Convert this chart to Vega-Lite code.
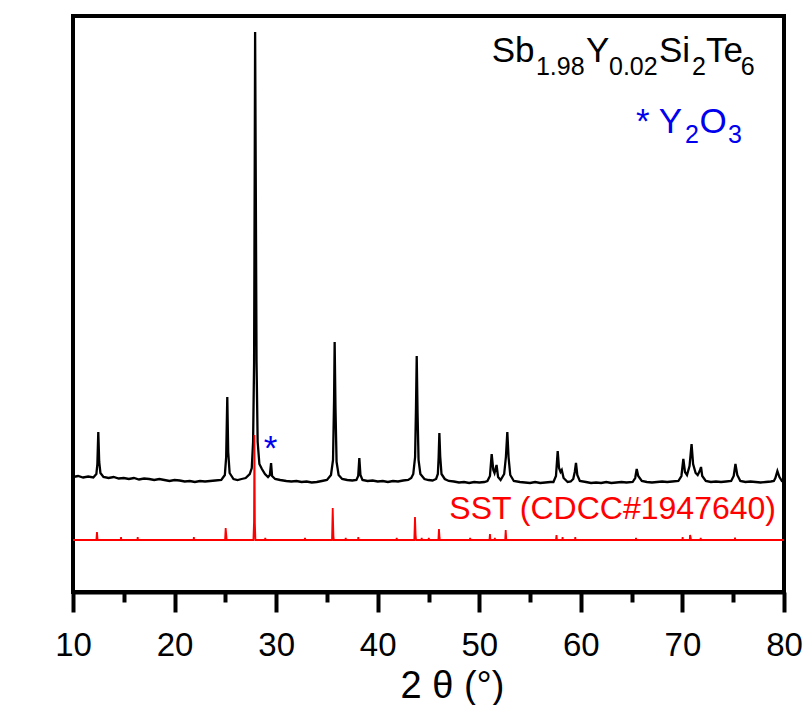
{
  "$schema": "https://vega.github.io/schema/vega-lite/v6.json",
  "width": 711,
  "height": 576,
  "autosize": {"type": "none"},
  "padding": {"left": 73, "top": 16, "right": 24, "bottom": 113},
  "background": "white",
  "config": {
    "font": "Liberation Sans",
    "view": {"stroke": "black", "strokeWidth": 4},
    "axis": {"grid": false}
  },
  "datasets": {
    "xrd": [
      {"t":10.0,"i":115},{"t":10.5,"i":116},{"t":11.0,"i":114.5},{"t":11.5,"i":115.5},{"t":12.0,"i":114.5},
      {"t":12.3,"i":118},{"t":12.4,"i":128},{"t":12.49,"i":160},{"t":12.58,"i":130},{"t":12.7,"i":119},
      {"t":13.0,"i":115},{"t":13.5,"i":114},{"t":14.0,"i":115},{"t":14.5,"i":113.5},{"t":15.0,"i":114},
      {"t":15.5,"i":113},{"t":16.0,"i":114},{"t":16.5,"i":112.5},{"t":17.0,"i":113.5},{"t":17.5,"i":113},
      {"t":18.0,"i":112},{"t":18.5,"i":113},{"t":19.0,"i":112},{"t":19.5,"i":111},{"t":20.0,"i":112},
      {"t":20.5,"i":111.5},{"t":21.0,"i":110.5},{"t":21.5,"i":111},{"t":22.0,"i":110},{"t":22.5,"i":111},
      {"t":23.0,"i":110.5},{"t":23.5,"i":111},{"t":24.0,"i":111.5},{"t":24.6,"i":112},{"t":24.95,"i":117},
      {"t":25.08,"i":135},{"t":25.19,"i":195},{"t":25.28,"i":140},{"t":25.42,"i":119},{"t":25.8,"i":113},
      {"t":26.2,"i":112},{"t":26.6,"i":113},{"t":27.0,"i":114},{"t":27.4,"i":118},{"t":27.6,"i":124},
      {"t":27.73,"i":150},{"t":27.83,"i":230},{"t":27.89,"i":420},{"t":27.93,"i":560},{"t":27.99,"i":420},
      {"t":28.07,"i":230},{"t":28.18,"i":150},{"t":28.35,"i":128},{"t":28.6,"i":123},{"t":28.9,"i":118},
      {"t":29.2,"i":115},{"t":29.38,"i":117},{"t":29.5,"i":129},{"t":29.6,"i":116},{"t":29.9,"i":113},
      {"t":30.4,"i":112},{"t":31.0,"i":111},{"t":31.5,"i":110.5},{"t":32.0,"i":111},{"t":32.5,"i":110},
      {"t":33.0,"i":110.5},{"t":33.5,"i":109.5},{"t":34.0,"i":110},{"t":34.5,"i":111},{"t":35.0,"i":112},
      {"t":35.4,"i":117},{"t":35.6,"i":132},{"t":35.7,"i":190},{"t":35.76,"i":250},{"t":35.84,"i":185},
      {"t":35.95,"i":130},{"t":36.15,"i":117},{"t":36.5,"i":113},{"t":37.0,"i":112},{"t":37.5,"i":111.5},
      {"t":37.9,"i":112},{"t":38.08,"i":116},{"t":38.19,"i":134},{"t":38.3,"i":117},{"t":38.5,"i":112},
      {"t":39.0,"i":111},{"t":39.5,"i":111.5},{"t":40.0,"i":110.5},{"t":40.5,"i":111},{"t":41.0,"i":110},
      {"t":41.5,"i":111},{"t":42.0,"i":110.5},{"t":42.5,"i":111.5},{"t":43.0,"i":112},{"t":43.3,"i":114},
      {"t":43.5,"i":118},{"t":43.68,"i":135},{"t":43.77,"i":185},{"t":43.84,"i":236},{"t":43.92,"i":180},
      {"t":44.02,"i":132},{"t":44.2,"i":118},{"t":44.6,"i":113},{"t":45.0,"i":112},{"t":45.4,"i":111.5},
      {"t":45.75,"i":113},{"t":45.92,"i":118},{"t":46.0,"i":135},{"t":46.07,"i":159},{"t":46.15,"i":136},
      {"t":46.28,"i":118},{"t":46.6,"i":113},{"t":47.0,"i":111},{"t":47.5,"i":110.5},{"t":48.0,"i":109.5},
      {"t":48.5,"i":110},{"t":49.0,"i":109},{"t":49.5,"i":110},{"t":50.0,"i":109.5},{"t":50.5,"i":110},
      {"t":50.8,"i":111},{"t":51.05,"i":116},{"t":51.22,"i":138},{"t":51.38,"i":122},{"t":51.5,"i":119},
      {"t":51.7,"i":127},{"t":51.85,"i":115},{"t":52.1,"i":112},{"t":52.45,"i":118},{"t":52.62,"i":135},
      {"t":52.76,"i":160},{"t":52.88,"i":135},{"t":53.05,"i":117},{"t":53.4,"i":111},{"t":54.0,"i":110},
      {"t":54.5,"i":109.5},{"t":55.0,"i":109},{"t":55.5,"i":110},{"t":56.0,"i":109},{"t":56.5,"i":109.5},
      {"t":57.0,"i":110},{"t":57.3,"i":110},{"t":57.55,"i":116},{"t":57.72,"i":141},{"t":57.85,"i":124},
      {"t":58.0,"i":120},{"t":58.12,"i":122},{"t":58.3,"i":114},{"t":58.7,"i":110},{"t":59.0,"i":110.5},
      {"t":59.25,"i":113},{"t":59.4,"i":120},{"t":59.52,"i":129},{"t":59.65,"i":117},{"t":59.9,"i":111},
      {"t":60.5,"i":110},{"t":61.0,"i":109},{"t":61.5,"i":109.5},{"t":62.0,"i":109},{"t":62.5,"i":110},
      {"t":63.0,"i":109},{"t":63.5,"i":109.5},{"t":64.0,"i":110},{"t":64.5,"i":109.5},{"t":65.1,"i":110},
      {"t":65.35,"i":114},{"t":65.5,"i":123},{"t":65.65,"i":116},{"t":66.0,"i":111},{"t":66.5,"i":110},
      {"t":67.0,"i":109.5},{"t":67.5,"i":110},{"t":68.0,"i":110.5},{"t":68.5,"i":110},{"t":69.0,"i":110.5},
      {"t":69.6,"i":111},{"t":69.9,"i":116},{"t":70.09,"i":133},{"t":70.25,"i":120},{"t":70.45,"i":117},
      {"t":70.7,"i":126},{"t":70.9,"i":148},{"t":71.05,"i":128},{"t":71.3,"i":119},{"t":71.5,"i":117},
      {"t":71.7,"i":121},{"t":71.83,"i":125},{"t":71.95,"i":116},{"t":72.3,"i":111},{"t":72.8,"i":110},
      {"t":73.3,"i":110.5},{"t":73.8,"i":110},{"t":74.3,"i":110.5},{"t":74.8,"i":111},{"t":75.05,"i":116},
      {"t":75.22,"i":128},{"t":75.4,"i":117},{"t":75.7,"i":111},{"t":76.2,"i":110},{"t":76.7,"i":110.5},
      {"t":77.2,"i":110},{"t":77.7,"i":109.5},{"t":78.2,"i":110},{"t":78.7,"i":110.5},{"t":79.0,"i":111},
      {"t":79.15,"i":114},{"t":79.35,"i":121},{"t":79.55,"i":115},{"t":79.8,"i":111},{"t":80.0,"i":110}
    ],
    "ref": [
      {"t":10.0,"i":52},
      {"t":12.3,"i":52},{"t":12.36,"i":60},{"t":12.42,"i":52},
      {"t":14.7,"i":52},{"t":14.73,"i":55},{"t":14.76,"i":52},
      {"t":16.34,"i":52},{"t":16.37,"i":55},{"t":16.4,"i":52},
      {"t":21.87,"i":52},{"t":21.9,"i":55},{"t":21.93,"i":52},
      {"t":24.97,"i":52},{"t":25.03,"i":64},{"t":25.1,"i":56},{"t":25.13,"i":52},
      {"t":27.76,"i":52},{"t":27.82,"i":70},{"t":27.86,"i":157},{"t":27.91,"i":68},{"t":27.96,"i":52},
      {"t":28.9,"i":52},{"t":28.93,"i":54},{"t":28.96,"i":52},
      {"t":32.8,"i":52},{"t":32.84,"i":54},{"t":32.88,"i":52},
      {"t":35.5,"i":52},{"t":35.57,"i":84},{"t":35.64,"i":56},{"t":35.68,"i":52},
      {"t":36.82,"i":52},{"t":36.85,"i":54},{"t":36.88,"i":52},
      {"t":38.06,"i":52},{"t":38.09,"i":55},{"t":38.12,"i":52},
      {"t":41.84,"i":52},{"t":41.87,"i":54},{"t":41.9,"i":52},
      {"t":43.6,"i":52},{"t":43.67,"i":75},{"t":43.73,"i":57},{"t":43.78,"i":52},
      {"t":44.3,"i":52},{"t":44.33,"i":54},{"t":44.36,"i":52},
      {"t":45.0,"i":52},{"t":45.03,"i":54},{"t":45.06,"i":52},
      {"t":45.97,"i":52},{"t":46.03,"i":63},{"t":46.09,"i":54},{"t":46.12,"i":52},
      {"t":49.07,"i":52},{"t":49.1,"i":54},{"t":49.13,"i":52},
      {"t":51.0,"i":52},{"t":51.05,"i":58},{"t":51.1,"i":52},
      {"t":51.5,"i":52},{"t":51.53,"i":54},{"t":51.56,"i":52},
      {"t":52.55,"i":52},{"t":52.6,"i":62},{"t":52.66,"i":52},
      {"t":57.55,"i":52},{"t":57.6,"i":57},{"t":57.65,"i":52},
      {"t":58.17,"i":52},{"t":58.2,"i":55},{"t":58.23,"i":52},
      {"t":59.42,"i":52},{"t":59.45,"i":55},{"t":59.48,"i":52},
      {"t":65.4,"i":52},{"t":65.43,"i":54},{"t":65.46,"i":52},
      {"t":69.99,"i":52},{"t":70.02,"i":55},{"t":70.05,"i":52},
      {"t":70.72,"i":52},{"t":70.75,"i":57},{"t":70.8,"i":55},{"t":70.85,"i":52},
      {"t":71.77,"i":52},{"t":71.8,"i":54},{"t":71.83,"i":52},
      {"t":75.15,"i":52},{"t":75.18,"i":54.5},{"t":75.21,"i":52},
      {"t":80.0,"i":52}
    ],
    "ann": [
      {"g":"fm","x":51.22,"y":530.3,"label":"Sb"},
      {"g":"fs","x":55.58,"y":517,"label":"1.98"},
      {"g":"fm","x":60.51,"y":530.3,"label":"Y"},
      {"g":"fs","x":62.77,"y":517,"label":"0.02"},
      {"g":"fm","x":67.69,"y":530.3,"label":"Si"},
      {"g":"fs","x":70.94,"y":517,"label":"2"},
      {"g":"fm","x":72.32,"y":530.3,"label":"Te"},
      {"g":"fs","x":75.75,"y":517,"label":"6"},
      {"g":"bm","x":65.43,"y":458.7,"label":"* Y"},
      {"g":"bs","x":70.25,"y":448.7,"label":"2"},
      {"g":"bm","x":71.68,"y":458.7,"label":"O"},
      {"g":"bs","x":74.49,"y":448.7,"label":"3"},
      {"g":"star","x":29.46,"y":132,"label":"*"},
      {"g":"sst","x":79.21,"y":72.7,"label":"SST (CDCC#1947640)"}
    ]
  },
  "layer": [
    {
      "data": {"name": "xrd"},
      "mark": {"type": "line", "color": "black", "strokeWidth": 2.3},
      "encoding": {
        "x": {
          "field": "t", "type": "quantitative",
          "scale": {"domain": [10, 80], "nice": false, "zero": false},
          "axis": {
            "orient": "bottom",
            "values": [10, 20, 30, 40, 50, 60, 70, 80],
            "tickSize": 20, "tickWidth": 4, "tickColor": "black",
            "domainWidth": 4, "domainColor": "black",
            "labelFontSize": 33, "labelColor": "black", "labelPadding": 17,
            "labelFlush": false, "labelOverlap": false,
            "title": "2 θ (°)", "titleFontSize": 38, "titleFontWeight": "normal",
            "titleColor": "black", "titleX": 379, "titleY": 105, "titleBaseline": "alphabetic"
          }
        },
        "y": {
          "field": "i", "type": "quantitative",
          "scale": {"domain": [0, 576], "nice": false, "zero": false},
          "axis": {
            "orient": "left", "domain": false, "ticks": false, "labels": false,
            "title": "Intensity (A.U.)", "titleFontSize": 50, "titleFontWeight": "normal",
            "titleColor": "black", "titleX": -28, "titleY": 351,
            "titleBaseline": "alphabetic", "titleAngle": 270
          }
        }
      }
    },
    {
      "data": {"name": "ref"},
      "mark": {"type": "line", "color": "#ff0000", "strokeWidth": 1.8},
      "encoding": {
        "x": {
          "field": "t", "type": "quantitative",
          "axis": {
            "orient": "bottom",
            "values": [15, 25, 35, 45, 55, 65, 75],
            "tickSize": 10, "tickWidth": 4, "tickColor": "black",
            "domain": false, "labels": false, "title": null
          }
        },
        "y": {"field": "i", "type": "quantitative", "axis": null}
      }
    },
    {
      "data": {"name": "ann"},
      "transform": [{"filter": "datum.g === 'fm'"}],
      "mark": {"type": "text", "align": "left", "baseline": "alphabetic", "fontSize": 35, "color": "black"},
      "encoding": {
        "x": {"field": "x", "type": "quantitative", "axis": null},
        "y": {"field": "y", "type": "quantitative", "axis": null},
        "text": {"field": "label"}
      }
    },
    {
      "data": {"name": "ann"},
      "transform": [{"filter": "datum.g === 'fs'"}],
      "mark": {"type": "text", "align": "left", "baseline": "alphabetic", "fontSize": 25, "color": "black"},
      "encoding": {
        "x": {"field": "x", "type": "quantitative", "axis": null},
        "y": {"field": "y", "type": "quantitative", "axis": null},
        "text": {"field": "label"}
      }
    },
    {
      "data": {"name": "ann"},
      "transform": [{"filter": "datum.g === 'bm'"}],
      "mark": {"type": "text", "align": "left", "baseline": "alphabetic", "fontSize": 35, "color": "#0000ee"},
      "encoding": {
        "x": {"field": "x", "type": "quantitative", "axis": null},
        "y": {"field": "y", "type": "quantitative", "axis": null},
        "text": {"field": "label"}
      }
    },
    {
      "data": {"name": "ann"},
      "transform": [{"filter": "datum.g === 'bs'"}],
      "mark": {"type": "text", "align": "left", "baseline": "alphabetic", "fontSize": 25, "color": "#0000ee"},
      "encoding": {
        "x": {"field": "x", "type": "quantitative", "axis": null},
        "y": {"field": "y", "type": "quantitative", "axis": null},
        "text": {"field": "label"}
      }
    },
    {
      "data": {"name": "ann"},
      "transform": [{"filter": "datum.g === 'star'"}],
      "mark": {"type": "text", "align": "center", "baseline": "alphabetic", "fontSize": 35, "color": "#0000ee"},
      "encoding": {
        "x": {"field": "x", "type": "quantitative", "axis": null},
        "y": {"field": "y", "type": "quantitative", "axis": null},
        "text": {"field": "label"}
      }
    },
    {
      "data": {"name": "ann"},
      "transform": [{"filter": "datum.g === 'sst'"}],
      "mark": {"type": "text", "align": "right", "baseline": "alphabetic", "fontSize": 32, "color": "#ff0000"},
      "encoding": {
        "x": {"field": "x", "type": "quantitative", "axis": null},
        "y": {"field": "y", "type": "quantitative", "axis": null},
        "text": {"field": "label"}
      }
    }
  ],
  "resolve": {"axis": {"x": "independent"}}
}
